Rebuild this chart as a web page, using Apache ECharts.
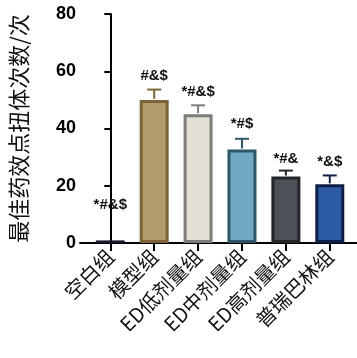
<!DOCTYPE html>
<html>
<head>
<meta charset="utf-8">
<script src="https://cdn.jsdelivr.net/npm/echarts@6/dist/echarts.min.js"></script>
<style>
  html, body { margin: 0; padding: 0; background: #fff; }
  #chart { width: 357px; height: 358px; }
</style>
</head>
<body>
<div id="chart"></div>
<script>
// Group names, mean writhing counts, SD and significance marks
const groups = ['空白组', '模型组', 'ED低剂量组', 'ED中剂量组', 'ED高剂量组', '普瑞巴林组'];
const means = [0.9, 50.0, 45.0, 32.7, 23.2, 20.5];
const sds = [0, 3.6, 3.1, 3.7, 2.1, 3.1];
const marks = ['*#&$', '#&$', '*#&$', '*#$', '*#&', '*&$'];
const yTicks = [0, 20, 40, 60, 80];

// Bar appearance
const fills = ['#1c2236', '#b39a6c', '#e2ded4', '#70a9c2', '#4c5157', '#2d5ba6'];
const edges = ['#11162a', '#7b6538', '#7d7d7b', '#2f5667', '#232528', '#0f1f47'];
// Extra lift (px) of the mark text above its bar/error bar
const markLift = [36, 14, 13, 15, 12, 14];

const positions = groups.map((g, i) => i);

const chart = echarts.init(document.getElementById('chart'));

chart.setOption({
  animation: false,
  backgroundColor: '#fff',
  grid: { left: 71, right: 0, top: 14, bottom: 115 },
  xAxis: {
    type: 'value',
    min: -0.69,
    max: 5.62,
    splitLine: { show: false },
    axisLine: { show: true, onZero: false, lineStyle: { color: '#000', width: 2 } },
    axisTick: { show: true, customValues: positions, length: 8, lineStyle: { color: '#000', width: 2 } },
    axisLabel: {
      customValues: positions,
      formatter: v => groups[Math.round(v)],
      rotate: 45,
      margin: 10,
      fontSize: 20,
      color: '#111',
      fontFamily: '"Noto Sans CJK SC", sans-serif'
    }
  },
  yAxis: {
    type: 'value',
    min: yTicks[0],
    max: yTicks[yTicks.length - 1],
    interval: 20,
    name: '最佳药效点扭体次数/次',
    nameLocation: 'middle',
    nameRotate: 90,
    nameGap: 50,
    nameTextStyle: { fontSize: 22, color: '#111', fontFamily: '"Noto Sans CJK SC", sans-serif' },
    splitLine: { show: false },
    axisLine: { show: true, lineStyle: { color: '#000', width: 2 } },
    axisTick: { show: true, length: 6, lineStyle: { color: '#000', width: 2 } },
    axisLabel: { fontSize: 18, fontWeight: 'bold', color: '#000', margin: 4, fontFamily: '"Liberation Sans", Arial, sans-serif' }
  },
  series: [
    {
      type: 'bar',
      barWidth: 29,
      z: 2,
      data: means.map((v, i) => ({
        value: [i, v],
        itemStyle: { color: fills[i], borderColor: edges[i], borderWidth: i === 0 ? 1 : 3 }
      }))
    },
    {
      type: 'custom',
      z: 3,
      data: means.map((v, i) => [i, v, sds[i]]),
      renderItem: function (params, api) {
        const i = params.dataIndex;
        const x = api.value(0), m = api.value(1), sd = api.value(2);
        const base = api.coord([x, m]);
        const top = api.coord([x, m + sd]);
        const children = [];
        if (sd > 0) {
          const half = 7;
          children.push({
            type: 'line',
            shape: { x1: base[0], y1: base[1] - 1, x2: top[0], y2: top[1] },
            style: { stroke: edges[i], lineWidth: 2 }
          });
          children.push({
            type: 'line',
            shape: { x1: top[0] - half, y1: top[1], x2: top[0] + half, y2: top[1] },
            style: { stroke: edges[i], lineWidth: 2 }
          });
        }
        children.push({
          type: 'text',
          style: {
            x: top[0],
            y: top[1] - markLift[i],
            text: marks[i],
            align: 'center',
            verticalAlign: 'middle',
            fill: '#111',
            fontSize: 15,
            fontWeight: 'bold',
            fontFamily: '"Liberation Sans", Arial, sans-serif'
          }
        });
        return { type: 'group', children: children };
      }
    }
  ]
});
</script>
</body>
</html>
